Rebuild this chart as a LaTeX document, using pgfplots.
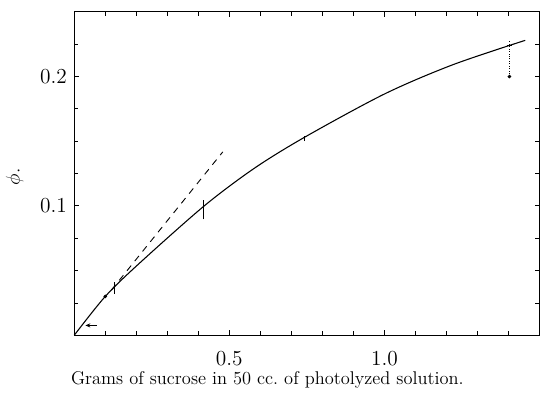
\documentclass[border=0pt]{standalone}
\usepackage{pgfplots}
\pgfplotsset{compat=1.18}
\usetikzlibrary{arrows.meta}
\begin{document}
\begin{tikzpicture}
\begin{axis}[
  scale only axis,
  width=282bp, height=196bp,
  xmin=0, xmax=1.5, ymin=0, ymax=0.25,
  axis line style={line width=0.7pt},
  tick align=inside,
  xtick={0,0.5,1.0,1.5}, xticklabels={,0.5,1.0,},
  ytick={0,0.1,0.2}, yticklabels={,0.1,0.2},
  minor xtick={0.1,0.2,0.3,0.4,0.6,0.7,0.8,0.9,1.1,1.2,1.3,1.4},
  minor ytick={0.025,0.05,0.075,0.125,0.15,0.175,0.225},
  major tick length=3bp, minor tick length=2.5bp,
  tick style={line width=0.5pt, black},
  /pgf/number format/assume math mode=true,
  ticklabel style={font=\fontsize{13}{15}\selectfont},
  xticklabel style={yshift=-6.5bp},
  yticklabel style={xshift=-1bp},
  xlabel={Grams of sucrose in 50 cc.\ of photolyzed solution.},
  xlabel style={font=\fontsize{11.2}{13}\selectfont, at={(axis description cs:0.415,0)}, anchor=base, yshift=-30bp},
  ylabel={$\phi$.},
  ylabel style={font=\fontsize{12}{14}\selectfont, inner sep=0pt, at={(axis description cs:-0.128,0.49)}, anchor=center},
  clip=false,
]
% main curve
\addplot[black, line width=0.65pt, smooth, tension=0.5] coordinates {
  (0,0) (0.1,0.030) (0.208,0.0552) (0.418,0.0998) (0.58,0.129)
  (0.742,0.153) (1.0,0.1865) (1.219,0.209) (1.454,0.228)
};
% tangent (dashed)
\addplot[black, line width=0.55pt, dash pattern=on 4bp off 3.5bp] coordinates {
  (0.12,0.035) (0.479,0.1418)
};
% data points
\addplot[only marks, mark=*, mark size=0.9pt, black] coordinates {
  (0.1,0.030) (1.403,0.200)
};
% error bars
\addplot[black, line width=0.55pt] coordinates {(0.13,0.032) (0.13,0.041)};
\addplot[black, line width=0.55pt] coordinates {(0.418,0.0895) (0.418,0.1048)};
\addplot[black, line width=0.55pt] coordinates {(0.742,0.150) (0.742,0.154)};
\addplot[black, line width=0.5pt, densely dotted] coordinates {(1.403,0.200) (1.403,0.228)};
\addplot[black, line width=0.5pt] coordinates {(1.396,0.2237) (1.410,0.2237)};
% arrow
\addplot[black, line width=0.6pt, -{Stealth[length=3bp,width=2.5bp]}] coordinates {(0.072,0.0076) (0.036,0.0076)};
\end{axis}
\path (current axis.south west) ++(-45bp,-34.2bp) coordinate (bbA);
\path (current axis.north east) ++(0bp,7.2bp) coordinate (bbB);
\useasboundingbox (bbA) rectangle (bbB);
\end{tikzpicture}
\end{document}
